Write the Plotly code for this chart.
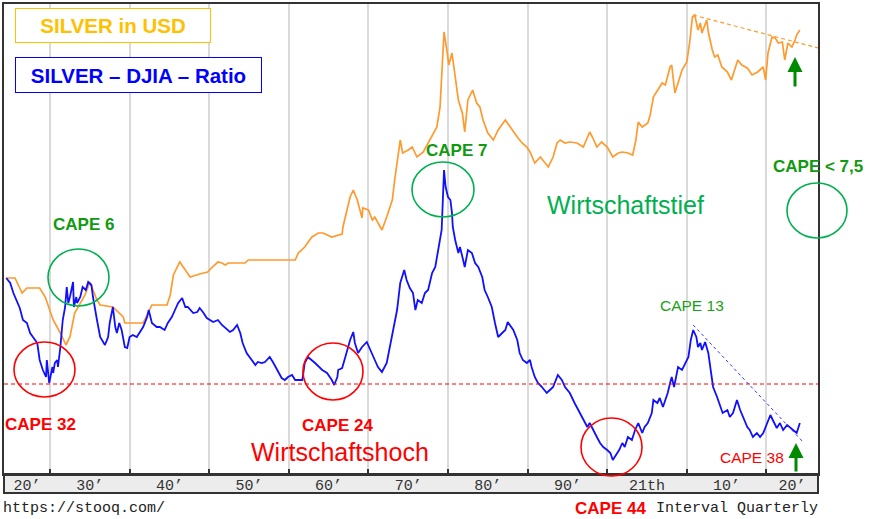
import plotly.graph_objects as go

# ---------------- data (index units) ----------------
silver_year = [1924.5, 1925.6, 1926.5, 1927.1, 1928.7, 1929.4, 1930.4, 1931.3, 1932.0, 1932.5,
               1933.1, 1933.8, 1934.4, 1935.0, 1935.9, 1936.3, 1937.9, 1939.2, 1939.4, 1941.7,
               1942.3, 1942.8, 1944.7, 1945.1, 1945.5, 1946.3, 1947.0, 1947.6, 1948.8, 1949.8,
               1950.4, 1951.1, 1951.6, 1952.0, 1952.4, 1954.5, 1954.9, 1960.8, 1961.2, 1962.0,
               1962.9, 1963.7, 1964.3, 1964.9, 1965.4, 1966.7, 1966.8, 1967.1, 1967.7, 1968.1,
               1968.6, 1969.2, 1969.3, 1970.0, 1970.5, 1970.8, 1971.2, 1971.7, 1972.3, 1973.0,
               1973.3, 1973.7, 1974.0, 1974.3, 1975.0, 1975.5, 1976.1, 1976.9, 1977.7, 1978.1,
               1978.6, 1979.0, 1979.2, 1979.4, 1979.5, 1979.9, 1980.1, 1980.5, 1980.9, 1981.3,
               1981.8, 1982.1, 1982.5, 1983.1, 1983.6, 1984.0, 1984.4, 1985.0, 1985.7, 1986.3,
               1987.2, 1987.8, 1988.7, 1989.3, 1989.9, 1990.3, 1990.9, 1991.6, 1991.9, 1992.6,
               1993.2, 1993.7, 1994.1, 1994.7, 1995.3, 1996.2, 1997.0, 1997.8, 1998.2, 1998.7,
               1999.3, 2000.0, 2000.7, 2001.4, 2001.9, 2002.6, 2003.2, 2003.6, 2003.9, 2004.4,
               2005.1, 2005.4, 2005.8, 2006.3, 2006.9, 2007.3, 2007.9, 2008.1, 2008.5, 2008.9,
               2009.4, 2010.0, 2010.4, 2010.7, 2011.0, 2011.4, 2011.7, 2011.9, 2012.3, 2012.5,
               2012.7, 2013.2, 2013.5, 2013.9, 2014.4, 2015.1, 2015.6, 2016.1, 2016.4, 2016.9,
               2017.6, 2018.2, 2018.9, 2019.6, 2019.9, 2020.2, 2020.7, 2021.1, 2021.5, 2022.0,
               2022.3, 2022.7, 2023.2, 2023.6, 2023.8, 2024.2]
silver_index = [196, 196, 181, 186, 186, 177, 154, 141, 129, 137,
                161, 171, 179, 192, 174, 169, 167, 157, 151, 151,
                161, 169, 169, 179, 199, 212, 204, 197, 200, 202,
                207, 212, 211, 209, 211, 211, 214, 214, 221, 227,
                237, 241, 241, 239, 237, 240, 247, 257, 277, 284,
                274, 256, 266, 264, 254, 257, 251, 244, 257, 274,
                294, 317, 334, 321, 324, 327, 317, 322, 334, 341,
                347, 367, 401, 431, 442, 421, 409, 421, 397, 374,
                361, 342, 374, 384, 371, 367, 354, 341, 334, 344,
                354, 347, 337, 331, 327, 322, 311, 317, 314, 307,
                317, 331, 334, 331, 332, 331, 327, 342, 336, 327,
                332, 327, 317, 321, 322, 321, 319, 334, 352, 347,
                351, 359, 377, 384, 391, 389, 407, 409, 381, 391,
                404, 412, 434, 457, 459, 444, 451, 441, 449, 454,
                442, 424, 417, 419, 407, 402, 394, 407, 414, 409,
                406, 399, 402, 407, 394, 421, 437, 436, 431, 432,
                414, 431, 427, 434, 439, 444]

ratio_year = [1924.5, 1925.0, 1925.4, 1925.9, 1926.2, 1926.6, 1927.1, 1927.5, 1927.9, 1928.4,
              1928.7, 1929.1, 1929.5, 1929.6, 1929.9, 1930.3, 1930.4, 1930.6, 1930.9, 1931.0,
              1931.3, 1931.5, 1931.6, 1931.9, 1932.1, 1932.3, 1932.5, 1932.9, 1933.0, 1933.3,
              1933.4, 1933.8, 1934.1, 1934.5, 1934.8, 1935.2, 1935.4, 1935.9, 1936.3, 1936.9,
              1937.3, 1937.5, 1937.9, 1938.2, 1938.4, 1938.7, 1939.0, 1939.4, 1939.7, 1940.0,
              1940.4, 1940.9, 1941.3, 1941.7, 1942.2, 1942.4, 1942.8, 1943.4, 1943.8, 1944.4,
              1944.8, 1945.3, 1945.7, 1946.1, 1946.6, 1947.0, 1947.3, 1948.0, 1948.5, 1948.8,
              1949.2, 1949.7, 1950.5, 1951.1, 1951.6, 1952.0, 1952.6, 1953.0, 1953.5, 1953.9,
              1954.2, 1954.7, 1955.4, 1955.8, 1956.1, 1956.6, 1957.0, 1957.6, 1958.0, 1958.5,
              1959.1, 1959.5, 1959.9, 1960.4, 1960.8, 1961.2, 1961.7, 1962.0, 1962.4, 1963.3,
              1964.2, 1964.8, 1965.4, 1965.7, 1966.1, 1966.2, 1966.7, 1967.1, 1967.4, 1967.7,
              1968.1, 1968.3, 1968.7, 1969.2, 1969.8, 1970.2, 1970.8, 1971.2, 1971.7, 1972.3,
              1972.7, 1973.1, 1973.3, 1973.6, 1974.0, 1974.5, 1974.8, 1975.2, 1975.6, 1975.9,
              1976.2, 1976.7, 1977.1, 1977.5, 1978.0, 1978.4, 1978.7, 1979.2, 1979.35, 1979.5,
              1979.7, 1980.0, 1980.3, 1980.5, 1980.6, 1980.9, 1981.3, 1981.5, 1981.9, 1982.1,
              1982.5, 1983.0, 1983.4, 1983.8, 1984.3, 1984.6, 1985.0, 1985.5, 1985.9, 1986.2,
              1986.3, 1986.8, 1987.2, 1987.5, 1988.2, 1988.7, 1989.0, 1989.4, 1989.9, 1990.3,
              1990.5, 1990.9, 1991.3, 1991.8, 1992.4, 1992.8, 1993.2, 1993.8, 1994.3, 1994.7,
              1995.3, 1995.9, 1996.6, 1997.0, 1997.5, 1997.8, 1998.2, 1998.7, 1999.1, 1999.5,
              2000.0, 2000.4, 2000.7, 2001.1, 2001.5, 2001.9, 2002.2, 2002.6, 2003.1, 2003.5,
              2003.9, 2004.4, 2004.7, 2005.1, 2005.6, 2005.8, 2006.3, 2006.6, 2007.0, 2007.3,
              2007.6, 2007.9, 2008.1, 2008.4, 2008.8, 2008.9, 2009.4, 2009.8, 2010.2, 2010.5,
              2010.8, 2011.2, 2011.4, 2011.7, 2011.9, 2012.3, 2012.7, 2013.0, 2013.3, 2013.8,
              2014.2, 2014.5, 2015.1, 2015.4, 2015.8, 2016.3, 2016.7, 2017.1, 2017.6, 2017.9,
              2018.3, 2018.8, 2019.2, 2019.6, 2020.1, 2020.5, 2020.8, 2021.3, 2021.7, 2022.1,
              2022.6, 2023.0, 2023.3, 2023.8, 2024.2]
ratio_index = [196, 191, 181, 171, 166, 154, 151, 141, 137, 131,
               114, 104, 97, 114, 91, 107, 101, 111, 114, 107,
               127, 147, 154, 167, 187, 171, 177, 192, 167, 177,
               171, 177, 187, 184, 192, 189, 177, 154, 137, 129,
               137, 151, 167, 147, 141, 151, 144, 127, 126, 137,
               139, 137, 142, 147, 157, 164, 151, 147, 147, 144,
               151, 157, 164, 171, 176, 167, 167, 161, 162, 166,
               162, 156, 152, 154, 149, 146, 142, 144, 149, 141,
               131, 121, 114, 109, 112, 111, 112, 117, 112, 104,
               96, 94, 97, 99, 94, 94, 94, 111, 117, 111,
               104, 101, 94, 89, 97, 104, 106, 117, 127, 134,
               142, 131, 121, 127, 132, 124, 114, 107, 102, 111,
               127, 144, 151, 164, 191, 204, 194, 186, 181, 164,
               174, 171, 181, 184, 201, 207, 221, 244, 274, 304,
               287, 277, 274, 261, 247, 234, 221, 227, 214, 207,
               224, 221, 211, 207, 197, 184, 177, 167, 151, 141,
               137, 141, 144, 152, 144, 134, 121, 114, 111, 114,
               107, 97, 91, 87, 81, 84, 87, 99, 94, 87,
               81, 71, 61, 54, 47, 51, 44, 37, 31, 27,
               24, 21, 14, 19, 24, 31, 27, 37, 34, 44,
               51, 41, 47, 51, 61, 74, 71, 76, 67, 74,
               81, 91, 97, 87, 101, 107, 104, 111, 117, 134,
               144, 137, 127, 131, 124, 132, 121, 104, 87, 77,
               67, 61, 64, 57, 61, 74, 64, 57, 47, 44,
               37, 41, 37, 41, 51, 59, 54, 46, 51, 44,
               49, 46, 44, 41, 51]

decades = [1930, 1940, 1950, 1960, 1970, 1980, 1990, 2000, 2010, 2020]
tick_pos = [1927.1, 1935, 1945, 1955, 1965, 1975, 1985, 1995, 2005, 2015, 2023.2]
tick_text = ["20’", "30’", "40’", "50’", "60’", "70’", "80’", "90’", "21th", "10’", "20’"]

ratio_support = 90
ratio_trend_year = [2010.8, 2024.6]
ratio_trend = [149, 32]
silver_trend_year = [2010.8, 2026.5]
silver_trend = [459, 426]

X_RANGE = [1924.22, 2026.48]
Y_RANGE = [0, 470]

# ---------------- layout helpers (pixel -> paper) ----------------
W, H = 871, 519
L, R, T, B = 4, 818, 4, 474


def px(x):
    return (x - L) / (R - L)


def py(y):
    return (B - y) / (B - T)


fig = go.Figure()
fig.add_trace(go.Scatter(x=silver_year, y=silver_index, mode="lines",
                         line=dict(color="#ff9a2e", width=1.7), hoverinfo="skip"))
fig.add_trace(go.Scatter(x=ratio_year, y=ratio_index, mode="lines",
                         line=dict(color="#1010ff", width=1.8), hoverinfo="skip"))
fig.add_trace(go.Scatter(x=ratio_trend_year, y=ratio_trend, mode="lines",
                         line=dict(color="#3030ff", width=1, dash="3px,3px"), hoverinfo="skip"))
fig.add_trace(go.Scatter(x=silver_trend_year, y=silver_trend, mode="lines",
                         line=dict(color="#ff9a2e", width=1.2, dash="4px,3px"), hoverinfo="skip"))

shapes = []
# grey date band under the plot
shapes.append(dict(type="rect", xref="paper", yref="paper", x0=0, x1=1, y0=py(493), y1=0,
                   fillcolor="#ececec", line=dict(color="#333333", width=2), layer="below"))
# red support line
shapes.append(dict(type="line", xref="paper", yref="y", x0=0, x1=1, y0=ratio_support, y1=ratio_support,
                   line=dict(color="#ff0000", width=1, dash="4px,3px")))


def ellipse(x0, x1, y0, y1, color):
    shapes.append(dict(type="circle", xref="paper", yref="paper",
                       x0=px(x0), x1=px(x1), y0=py(y1), y1=py(y0),
                       line=dict(color=color, width=1.6)))


RED = "#ff0000"
GRN = "#00b050"
ellipse(14, 75, 342, 397, RED)
ellipse(48, 109, 249, 306, GRN)
ellipse(303, 363, 343, 400, RED)
ellipse(412, 474, 162, 217, GRN)
ellipse(581, 642, 418, 476, RED)
ellipse(787, 847, 183, 238, GRN)

annotations = []


def text(x, y, s, size, color, bold=False, xanchor="center", family="Liberation Sans, Arial"):
    annotations.append(dict(xref="paper", yref="paper", x=px(x), y=py(y), text=f"<b>{s}</b>" if bold else s,
                            showarrow=False, xanchor=xanchor, yanchor="middle",
                            font=dict(size=size, color=color, family=family)))


text(40, 424, "CAPE 32", 17, RED, True)
text(83, 225, "CAPE 6", 17, "#109a10", True)
text(337, 425, "CAPE 24", 17, RED, True)
text(340, 452, "Wirtschaftshoch", 25, RED)
text(456, 151, "CAPE 7", 17, "#109a10", True)
text(625, 205, "Wirtschaftstief", 25, GRN)
text(771, 166, "CAPE &lt; 7,5", 17, "#109a10", True, xanchor="left")
text(692, 305, "CAPE 13", 15.5, "#18a018")
text(752, 457, "CAPE 38", 15.5, RED)
text(610, 508, "CAPE 44", 17, RED, True)
text(1, 508, "https://stooq.com/", 15, "#222222", xanchor="left", family="Liberation Mono, Courier New, monospace")
text(820, 508, "Interval Quarterly", 15, "#222222", xanchor="right", family="Liberation Mono, Courier New, monospace")

# title boxes
annotations.append(dict(xref="paper", yref="paper", x=px(113), y=py(25.5), text="<b>SILVER in USD</b>",
                        showarrow=False, xanchor="center", yanchor="middle", width=194, height=33,
                        bordercolor="#ffc000", borderwidth=1, borderpad=0, bgcolor="white",
                        font=dict(size=20.5, color="#ffc000", family="Liberation Sans, Arial")))
annotations.append(dict(xref="paper", yref="paper", x=px(138.5), y=py(75), text="<b>SILVER – DJIA – Ratio</b>",
                        showarrow=False, xanchor="center", yanchor="middle", width=245, height=34,
                        bordercolor="#0000ff", borderwidth=1, borderpad=0, bgcolor="white",
                        font=dict(size=20.5, color="#0000ff", family="Liberation Sans, Arial")))

# green arrows
for hx, hy, tail in [(795, 57, 31), (796, 443, 30)]:
    annotations.append(dict(xref="paper", yref="paper", x=px(hx), y=py(hy), text="",
                            showarrow=True, arrowhead=2, arrowsize=1, arrowwidth=3,
                            arrowcolor="#008a00", ax=0, ay=tail, standoff=0))

fig.update_layout(
    width=W, height=H,
    margin=dict(l=L, r=W - R, t=T, b=H - B, pad=0, autoexpand=False),
    paper_bgcolor="white", plot_bgcolor="white",
    showlegend=False,
    shapes=shapes, annotations=annotations,
    xaxis=dict(range=X_RANGE, tickmode="array", tickvals=tick_pos, ticktext=tick_text,
               ticks="", showgrid=False, zeroline=False, ticklabelstandoff=-4,
               showline=True, linecolor="#333333", linewidth=2, mirror=True,
               tickfont=dict(family="Liberation Mono, Courier New, monospace", size=15, color="#333333"),
               minor=dict(tickmode="array", tickvals=decades, showgrid=True, gridcolor="#dadada",
                          gridwidth=2, ticks="inside", ticklen=5, tickcolor="#333333", tickwidth=2)),
    yaxis=dict(range=Y_RANGE, showticklabels=False, ticks="", showgrid=False, zeroline=False,
               showline=True, linecolor="#333333", linewidth=2, mirror=True),
)

fig.write_html("out.html", config={"displayModeBar": False},
               post_script="document.body.style.margin='0';document.body.style.padding='0';")
